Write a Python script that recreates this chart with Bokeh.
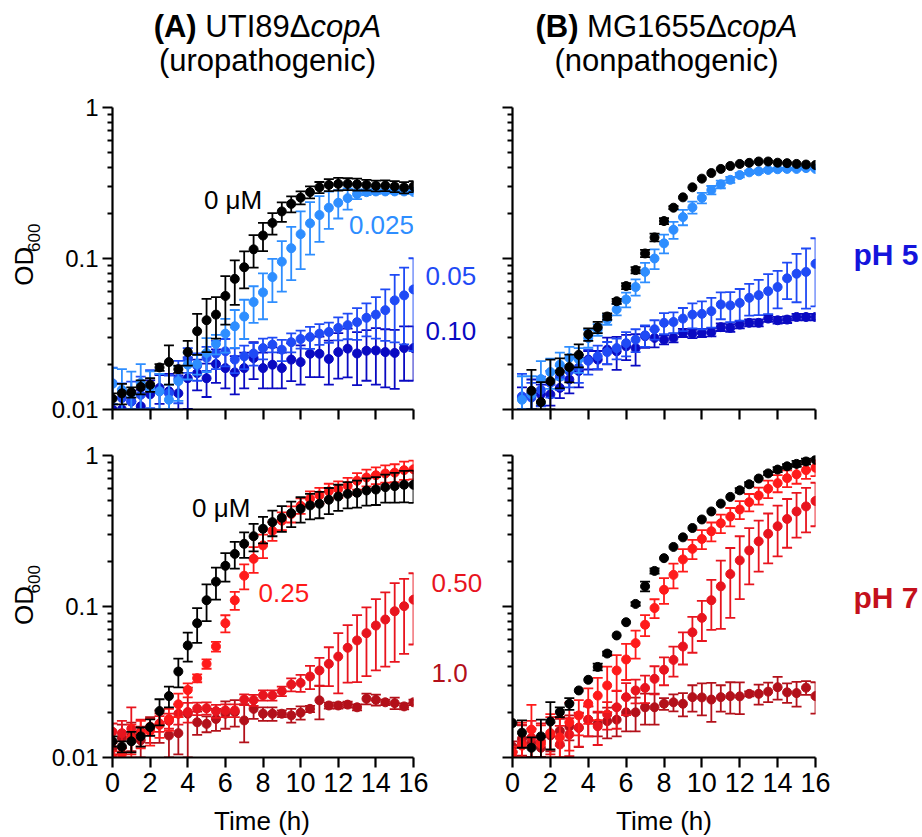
import numpy as np
from bokeh.plotting import figure
from bokeh.models import Range1d, FixedTicker, CustomJSTickFormatter, Label, ColumnDataSource
from bokeh.layouts import row, column
from bokeh.embed import file_html
from bokeh.resources import INLINE

NAN = float("nan")

# ---------------- data ----------------
hours = [0.0, 0.5, 1.0, 1.5, 2.0, 2.5, 3.0, 3.5, 4.0, 4.5, 5.0, 5.5, 6.0, 6.5, 7.0, 7.5,
         8.0, 8.5, 9.0, 9.5, 10.0, 10.5, 11.0, 11.5, 12.0, 12.5, 13.0, 13.5, 14.0, 14.5,
         15.0, 15.5, 16.0]
hours_b5 = hours[1:]

x_ticks = [0, 2, 4, 6, 8, 10, 12, 14, 16]
y_ticks = [0.01, 0.1, 1]
y_minor = [0.02, 0.03, 0.04, 0.05, 0.06, 0.07, 0.08, 0.09,
           0.2, 0.3, 0.4, 0.5, 0.6, 0.7, 0.8, 0.9]

# (A) UTI89 pH 5
a5_0 = [0.0118, 0.0128, 0.0130, 0.0141, 0.0146, 0.0190, 0.0206, 0.0185, 0.0240, 0.0330, 0.0390,
        0.0425, 0.0565, 0.0733, 0.0875, 0.115, 0.142, 0.172, 0.205, 0.230, 0.253, 0.275, 0.296,
        0.307, 0.312, 0.312, 0.310, 0.307, 0.303, 0.304, 0.300, 0.295, 0.300]
a5_0_sd = [0.001, 0.002, 0.001, 0.0015, 0.0015, 0.001, 0.006, 0.001, 0.0045, 0.010, 0.015,
           0.013, 0.020, 0.024, 0.024, 0.028, 0.030, 0.028, 0.030, 0.028, 0.025, 0.025, 0.025,
           0.028, 0.030, 0.028, 0.028, 0.025, 0.025, 0.025, 0.025, 0.025, 0.025]
a5_025 = [0.0148, 0.0135, 0.0128, 0.0150, 0.0139, 0.0132, 0.0116, 0.0154, 0.0198, 0.0200, 0.0237,
          0.0272, 0.0318, 0.0356, 0.0413, 0.0515, 0.0596, 0.0754, 0.0953, 0.117, 0.145, 0.171,
          0.194, 0.217, 0.234, 0.251, 0.267, 0.275, 0.278, 0.278, 0.278, 0.278, 0.276]
a5_025_sd = [0.004, 0.005, 0.005, 0.005, 0.004, 0.004, 0.003, 0.004, 0.004, 0.003, 0.006, 0.004,
             0.008, 0.010, 0.012, 0.014, 0.020, 0.024, 0.035, 0.045, 0.060, 0.065, 0.065, 0.060,
             0.050, 0.040, 0.020, 0.012, 0.010, 0.008, 0.008, 0.008, 0.008]
a5_05 = [0.0149, 0.0119, 0.0113, 0.0125, 0.0142, 0.0132, 0.0128, 0.0160, 0.0215, 0.0195, 0.0220,
         0.0235, 0.0243, 0.0214, 0.0225, 0.0235, 0.0255, 0.0269, 0.0249, 0.0279, 0.0293, 0.0302,
         0.0318, 0.0326, 0.0347, 0.0362, 0.0379, 0.0405, 0.0425, 0.0455, 0.0528, 0.0570, 0.0624]
a5_05_sd = [0.004, 0.003, 0.004, 0.004, 0.004, 0.004, 0.004, 0.005, 0.004, 0.004, 0.004, 0.005,
            0.005, 0.004, 0.004, 0.004, 0.004, 0.003, 0.004, 0.004, 0.004, 0.005, 0.005, 0.005,
            0.006, 0.007, 0.009, 0.010, 0.013, 0.017, 0.025, 0.030, 0.038]
a5_10 = [0.0100, 0.0100, 0.0113, 0.0105, 0.0126, 0.0139, 0.0132, 0.0128, 0.0161, 0.0174, 0.0161,
         0.0200, 0.0188, 0.0176, 0.0188, 0.0219, 0.0188, 0.0198, 0.0188, 0.0214, 0.0206, 0.0234,
         0.0234, 0.0216, 0.0240, 0.0253, 0.0235, 0.0245, 0.0246, 0.0240, 0.0237, 0.0255, 0.0255]
a5_10_sd = [0.002, 0.002, 0.002, 0.003, 0.003, 0.003, 0.004, 0.004, 0.006, 0.004, 0.004, 0.005,
            0.005, 0.005, 0.005, 0.006, 0.005, 0.006, 0.005, 0.006, 0.006, 0.007, 0.007, 0.007,
            0.008, 0.009, 0.009, 0.009, 0.010, 0.010, 0.010, 0.010, 0.010]

# (B) MG1655 pH 5 (from 0.5 h)
b5_0 = [NAN, 0.0133, 0.0112, 0.0154, 0.0178, 0.0191, 0.0230, 0.0315, 0.0350, 0.0413, 0.0521,
        0.0657, 0.0838, 0.108, 0.138, 0.177, 0.217, 0.254, 0.296, 0.338, 0.368, 0.392, 0.410,
        0.423, 0.430, 0.439, 0.439, 0.431, 0.428, 0.423, 0.419, 0.416]
b5_0_sd = [0, 0.005, 0.004, 0.006, 0.004, 0.004, 0.004, 0.003, 0.003, 0.002, 0.002, 0.003, 0.004,
           0.006, 0.008, 0.008, 0.005, 0, 0, 0, 0, 0, 0, 0, 0, 0, 0, 0, 0, 0, 0, 0]
b5_025 = [0.0116, 0.0126, 0.0159, 0.0177, 0.0198, 0.0220, 0.0215, 0.0297, 0.0338, 0.0394, 0.0460,
          0.0535, 0.0647, 0.0815, 0.100, 0.126, 0.155, 0.188, 0.218, 0.252, 0.284, 0.310, 0.332,
          0.357, 0.372, 0.378, 0.386, 0.390, 0.392, 0.392, 0.397, 0.392]
b5_025_sd = [0.005, 0.004, 0.005, 0.004, 0.004, 0.004, 0.004, 0.004, 0.003, 0.003, 0.004, 0.006,
             0.008, 0.012, 0.015, 0.018, 0.020, 0.022, 0.020, 0.020, 0.018, 0.018, 0.015, 0.012,
             0.010, 0.010, 0.008, 0.008, 0.006, 0.005, 0.005, 0.004]
b5_05 = [0.0122, 0.0120, 0.0135, 0.0150, 0.0165, 0.0180, 0.0190, 0.0210, 0.0225, 0.0240, 0.0255,
         0.0275, 0.0290, 0.0310, 0.0340, 0.0375, 0.0380, 0.0400, 0.0425, 0.0430, 0.0448, 0.0496,
         0.0489, 0.0508, 0.0549, 0.0572, 0.0608, 0.0647, 0.0739, 0.0793, 0.0815, 0.0922]
b5_05_sd = [0.005, 0.003, 0.003, 0.003, 0.003, 0.004, 0.004, 0.004, 0.004, 0.004, 0.004, 0.005,
            0.005, 0.005, 0.005, 0.006, 0.006, 0.007, 0.008, 0.009, 0.010, 0.010, 0.011, 0.012,
            0.013, 0.015, 0.018, 0.018, 0.020, 0.028, 0.035, 0.044]
b5_10 = [0.0120, 0.0128, 0.0126, 0.0126, 0.0139, 0.0158, 0.0180, 0.0214, 0.0214, 0.0249, 0.0243,
         0.0262, 0.0255, 0.0306, 0.0298, 0.0290, 0.0298, 0.0322, 0.0317, 0.0322, 0.0325, 0.0351,
         0.0347, 0.0365, 0.0375, 0.0375, 0.0400, 0.0390, 0.0394, 0.0410, 0.0410, 0.0410]
b5_10_sd = [0.002, 0.003, 0.002, 0.002, 0.002, 0.003, 0.004, 0.003, 0.003, 0.005, 0.006, 0.005,
            0.006, 0.005, 0.004, 0.002, 0.002, 0.002, 0.002, 0.002, 0.002, 0.002, 0.002, 0.002,
            0.002, 0.002, 0.002, 0.002, 0.002, 0.002, 0.002, 0.002]

# (A) UTI89 pH 7
a7_0 = [0.0128, 0.0118, 0.0128, 0.0138, 0.0159, 0.0203, 0.0255, 0.0371, 0.0552, 0.0775, 0.110,
        0.146, 0.186, 0.223, 0.260, 0.292, 0.327, 0.362, 0.387, 0.415, 0.444, 0.467, 0.479,
        0.509, 0.535, 0.557, 0.566, 0.586, 0.595, 0.617, 0.627, 0.640, 0.640]
a7_0_sd = [0.001, 0.001, 0.002, 0.002, 0.002, 0.004, 0.004, 0.008, 0.012, 0.020, 0.030, 0.035,
           0.040, 0.045, 0.050, 0.060, 0.065, 0.070, 0.075, 0.080, 0.085, 0.090, 0.095, 0.100,
           0.105, 0.110, 0.115, 0.120, 0.125, 0.130, 0.140, 0.150, 0.155]
a7_025 = [0.0100, 0.0106, 0.0135, 0.0145, 0.0150, 0.0165, 0.0180, 0.0225, 0.0280, 0.0335, 0.0417,
          0.0543, 0.0775, 0.110, 0.160, 0.207, 0.254, 0.317, 0.370, 0.410, 0.465, 0.518, 0.545,
          0.580, 0.600, 0.630, 0.680, 0.715, 0.740, 0.760, 0.770, 0.800, 0.810]
a7_025_sd = [0.001, 0.001, 0.003, 0.003, 0.003, 0.003, 0.003, 0.004, 0.003, 0.002, 0.003, 0.004,
             0.010, 0.015, 0.030, 0.040, 0.045, 0.045, 0.050, 0.050, 0.055, 0.060, 0.065, 0.070,
             0.075, 0.080, 0.085, 0.090, 0.095, 0.100, 0.105, 0.110, 0.115]
a7_050 = [0.0148, 0.0145, 0.0155, 0.0148, 0.0160, 0.0168, 0.0175, 0.0195, 0.0200, 0.0211, 0.0212,
          0.0203, 0.0205, 0.0205, 0.0242, 0.0240, 0.0258, 0.0258, 0.0275, 0.0304, 0.0312, 0.0344,
          0.0377, 0.0417, 0.0466, 0.0533, 0.0596, 0.0666, 0.0748, 0.0820, 0.0930, 0.1005, 0.111]
a7_050_sd = [0.002, 0.003, 0.006, 0.003, 0.002, 0.002, 0.002, 0.003, 0.003, 0.002, 0.002, 0.002,
             0.002, 0.002, 0.002, 0.002, 0.002, 0.002, 0.002, 0.003, 0.004, 0.006, 0.008, 0.012,
             0.020, 0.022, 0.028, 0.032, 0.037, 0.042, 0.050, 0.052, 0.055]
a7_10 = [0.0115, 0.0135, 0.0140, 0.0130, 0.0155, 0.0165, 0.0140, 0.0145, 0.0195, 0.0171, 0.0167,
         0.0180, 0.0195, 0.0200, 0.0176, 0.0210, 0.0195, 0.0195, 0.0195, 0.0190, 0.0198, 0.0210,
         0.0239, 0.0221, 0.0221, 0.0224, 0.0215, 0.0245, 0.0241, 0.0232, 0.0229, 0.0218, 0.0232]
a7_10_sd = [0.001, 0.003, 0.003, 0.003, 0.003, 0.004, 0.004, 0.004, 0.0095, 0.003, 0.002, 0.003,
            0.004, 0.004, 0.005, 0.003, 0.002, 0.002, 0.001, 0.002, 0.002, 0.001, 0.006, 0.001,
            0.001, 0.001, 0.001, 0.002, 0.002, 0.001, 0.002, 0.001, 0.001]

# (B) MG1655 pH 7
b7_0 = [0.0169, 0.0146, 0.0116, 0.0138, 0.0173, 0.0200, 0.0227, 0.0278, 0.0327, 0.0398, 0.0488,
        0.0643, 0.0787, 0.104, 0.136, 0.172, 0.209, 0.248, 0.287, 0.331, 0.377, 0.426, 0.480,
        0.532, 0.588, 0.645, 0.704, 0.761, 0.807, 0.848, 0.880, 0.913, 0.936]
b7_0_sd = [0, 0.003, 0.002, 0.004, 0.006, 0.0015, 0.002, 0, 0, 0.002, 0.0015, 0, 0, 0.003, 0.010,
           0.007, 0, 0, 0, 0, 0, 0, 0, 0, 0.02, 0.02, 0, 0.02, 0.03, 0.03, 0.04, 0.04, 0]
b7_025 = [0.0108, 0.0120, 0.0153, 0.0123, 0.0144, 0.0136, 0.0171, 0.0190, 0.0227, 0.0257, 0.0300,
          0.0377, 0.0446, 0.0572, 0.0757, 0.0977, 0.129, 0.162, 0.205, 0.241, 0.280, 0.315, 0.356,
          0.394, 0.439, 0.491, 0.543, 0.602, 0.656, 0.708, 0.750, 0.800, 0.830]
b7_025_sd = [0.001, 0.005, 0.007, 0.004, 0.005, 0.005, 0.006, 0.005, 0.006, 0.008, 0.010, 0.010,
             0.012, 0.012, 0.012, 0.014, 0.025, 0.030, 0.035, 0.035, 0.040, 0.045, 0.050, 0.055,
             0.060, 0.065, 0.070, 0.080, 0.085, 0.090, 0.100, 0.100, 0.100]
b7_050 = [0.0100, 0.0125, 0.0135, 0.0128, 0.0145, 0.0122, 0.0142, 0.0158, 0.0178, 0.0161, 0.0193,
          0.0215, 0.0251, 0.0278, 0.0289, 0.0332, 0.0381, 0.0443, 0.0543, 0.0674, 0.0841, 0.110,
          0.136, 0.164, 0.202, 0.235, 0.270, 0.303, 0.340, 0.380, 0.426, 0.460, 0.500]
b7_050_sd = [0.001, 0.004, 0.004, 0.004, 0.004, 0.004, 0.004, 0.004, 0.004, 0.004, 0.004, 0.006,
             0.006, 0.005, 0.006, 0.007, 0.008, 0.010, 0.013, 0.018, 0.025, 0.040, 0.065, 0.080,
             0.090, 0.095, 0.100, 0.110, 0.125, 0.135, 0.140, 0.150, 0.160]
b7_10 = [0.0118, 0.0133, 0.0125, 0.0116, 0.0140, 0.0150, 0.0160, 0.0157, 0.0178, 0.0168, 0.0174,
         0.0178, 0.0199, 0.0199, 0.0215, 0.0215, 0.0227, 0.0232, 0.0227, 0.0251, 0.0250, 0.0242,
         0.0251, 0.0255, 0.0254, 0.0264, 0.0264, 0.0273, 0.0292, 0.0270, 0.0267, 0.0290, 0.0255]
b7_10_sd = [0.001, 0.003, 0.003, 0.002, 0.003, 0.003, 0.003, 0.004, 0.004, 0.003, 0.004, 0.004,
            0.005, 0.005, 0.005, 0.005, 0.002, 0.003, 0.004, 0.005, 0.006, 0.007, 0.005, 0.006,
            0.006, 0.001, 0.004, 0.004, 0.005, 0.004, 0.005, 0.003, 0.006]

# ---------------- style ----------------
FONT = "Liberation Sans"
C_BLACK = "#000000"
C_LB = "#2E8EFF"
C_MB = "#1F4AF5"
C_DB = "#0A0AC2"
C_PH5 = "#1414DC"
C_R1 = "#FF1A1A"
C_R2 = "#E8141E"
C_R3 = "#B3101A"
C_PH7 = "#C4101C"

FRAME_W = 303          # 16 h
FRAME_H = 302          # 2 decades
PX_H = FRAME_W / 16.0
PX_DEC = FRAME_H / 2.0


def make_fig(width, height, bl, br, bt, bb, ylabels, xlabels):
    p = figure(width=width, height=height, x_range=Range1d(0, 16),
               y_range=Range1d(0.01, 1), y_axis_type="log",
               output_backend="svg", toolbar_location=None,
               min_border_left=bl, min_border_right=br,
               min_border_top=bt, min_border_bottom=bb)
    p.outline_line_color = None
    p.xgrid.visible = False
    p.ygrid.visible = False
    p.background_fill_color = "white"
    p.border_fill_color = "white"
    xa, ya = p.xaxis[0], p.yaxis[0]
    xa.ticker = FixedTicker(ticks=x_ticks, minor_ticks=[])
    ya.ticker = FixedTicker(ticks=y_ticks, minor_ticks=y_minor)
    for ax in (xa, ya):
        ax.axis_line_width = 2.2
        ax.axis_line_color = "black"
        ax.major_tick_line_width = 2.2
        ax.minor_tick_line_width = 2.2
        ax.major_tick_line_color = "black"
        ax.minor_tick_line_color = "black"
        ax.major_tick_in = 0
        ax.major_tick_out = 10
        ax.minor_tick_in = 0
        ax.minor_tick_out = 5
        ax.major_label_text_font = FONT
        ax.major_label_text_color = "black"
    if xlabels:
        xa.major_label_text_font_size = "27px"
        xa.major_label_standoff = 5
        xa.formatter = CustomJSTickFormatter(code="return String(tick)")
    else:
        xa.major_label_text_font_size = "0px"
        xa.major_label_standoff = 0
        xa.formatter = CustomJSTickFormatter(code="return ''")
    if ylabels:
        ya.major_label_text_font_size = "24px"
        ya.major_label_standoff = 4
        ya.formatter = CustomJSTickFormatter(code="return String(tick)")
    else:
        ya.major_label_text_font_size = "0px"
        ya.major_label_standoff = 0
        ya.formatter = CustomJSTickFormatter(code="return ''")
    return p


def text_fig(x0, x1, y0, y1):
    # a blank canvas whose data coordinates equal page pixels
    p = figure(width=int(x1 - x0), height=int(y1 - y0),
               x_range=Range1d(x0, x1), y_range=Range1d(y1, y0),
               x_axis_location=None, y_axis_location=None,
               output_backend="svg", toolbar_location=None,
               min_border=0, min_border_left=0, min_border_right=0,
               min_border_top=0, min_border_bottom=0)
    p.outline_line_color = None
    for g in p.grid:
        g.visible = False
    p.background_fill_color = "white"
    p.border_fill_color = "white"
    return p


def draw_series(p, t, od, sd, color):
    t = np.asarray(t, dtype=float)
    od = np.asarray(od, dtype=float)
    sd = np.asarray(sd, dtype=float)
    ok = ~np.isnan(od)
    has = ok & (sd > 0)
    hi = od + sd
    lo = np.maximum(od - sd, 0.01)
    bars = ColumnDataSource(dict(t=t[has], lo=lo[has], hi=hi[has]))
    p.segment(x0="t", y0="lo", x1="t", y1="hi", source=bars, line_color=color, line_width=1.8)
    p.scatter(x="t", y="hi", source=bars, marker="dash", size=10, line_color=color, line_width=1.8)
    p.scatter(x="t", y="lo", source=bars, marker="dash", size=10, line_color=color, line_width=1.8)
    pts = ColumnDataSource(dict(t=t[ok], od=od[ok]))
    p.scatter(x="t", y="od", source=pts, marker="circle", size=9, fill_color=color, line_color=color)


def add_text(p, x, y, text, size, color="black", style="normal", align="left",
             baseline="middle", angle=0.0):
    p.add_layout(Label(x=x, y=y, text=text, text_font=FONT, text_font_size=f"{size}px",
                       text_color=color, text_font_style=style, text_align=align,
                       text_baseline=baseline, angle=angle))


# page geometry (px)
XA0, XB0 = 110, 512         # page x of t = 0
YT, YB = 409, 757           # page y of OD = 0.01 (top / bottom row)
ROW0, ROW1, ROW2, ROW3 = 92, 436, 805, 837
LEFT_W = 48


def tx(px, x0):
    return (px - x0) / PX_H


def ty(py, y001):
    return 10 ** (-2 + (y001 - py) / PX_DEC)


W = {"(": 333, ")": 333, "A": 722, "B": 722, "U": 722, "T": 611, "I": 278, "8": 556, "9": 556,
     "M": 833, "G": 778, "1": 556, "6": 556, "5": 556, "Δ": 668, " ": 278,
     "c": 500, "o": 556, "p": 556}


def wid(s, size):
    return sum(W[c] for c in s) / 1000.0 * size


# ----- data panels -----
BL_A = XA0 - LEFT_W
pa5 = make_fig(BL_A + FRAME_W + 7, ROW1 - ROW0, BL_A, 7, 107 - ROW0, ROW1 - YT, True, False)
pb5 = make_fig(338, ROW1 - ROW0, 15, 20, 107 - ROW0, ROW1 - YT, False, False)
pa7 = make_fig(BL_A + FRAME_W + 17, ROW2 - ROW1, BL_A, 17, 455 - ROW1, ROW2 - YB, True, True)
pb7 = make_fig(338, ROW2 - ROW1, 15, 20, 455 - ROW1, ROW2 - YB, False, True)

for od, sd, c in [(a5_10, a5_10_sd, C_DB), (a5_05, a5_05_sd, C_MB),
                  (a5_025, a5_025_sd, C_LB), (a5_0, a5_0_sd, C_BLACK)]:
    draw_series(pa5, hours, od, sd, c)
for od, sd, c in [(b5_10, b5_10_sd, C_DB), (b5_05, b5_05_sd, C_MB),
                  (b5_025, b5_025_sd, C_LB), (b5_0, b5_0_sd, C_BLACK)]:
    draw_series(pb5, hours_b5, od, sd, c)
for od, sd, c in [(a7_10, a7_10_sd, C_R3), (a7_050, a7_050_sd, C_R2),
                  (a7_025, a7_025_sd, C_R1), (a7_0, a7_0_sd, C_BLACK)]:
    draw_series(pa7, hours, od, sd, c)
for od, sd, c in [(b7_10, b7_10_sd, C_R3), (b7_050, b7_050_sd, C_R2),
                  (b7_025, b7_025_sd, C_R1), (b7_0, b7_0_sd, C_BLACK)]:
    draw_series(pb7, hours, od, sd, c)

# annotations inside the frames
add_text(pa5, tx(202, XA0), ty(199, YT), "0 μM", 26, C_BLACK)
add_text(pa5, tx(348, XA0), ty(224, YT), "0.025", 26, C_LB)
add_text(pa7, tx(190, XA0), ty(507, YB), "0 μM", 26, C_BLACK)
add_text(pa7, tx(257, XA0), ty(592, YB), "0.25", 26, C_R1)

# ----- text canvases around the panels -----
A5_END = LEFT_W + BL_A + FRAME_W + 7
A7_END = LEFT_W + BL_A + FRAME_W + 17
title = text_fig(0, 920, 0, ROW0)
left5 = text_fig(0, LEFT_W, ROW0, ROW1)
left7 = text_fig(0, LEFT_W, ROW1, ROW2)
gap5 = text_fig(A5_END, 497, ROW0, ROW1)
gap7 = text_fig(A7_END, 497, ROW1, ROW2)
right5 = text_fig(835, 920, ROW0, ROW1)
right7 = text_fig(835, 920, ROW1, ROW2)
bottom = text_fig(0, 920, ROW2, ROW3)

TS = 31
for tag, strain, sub, cx in [("(A)", "UTI89Δ", "(uropathogenic)", 267),
                             ("(B)", "MG1655Δ", "(nonpathogenic)", 666)]:
    total = wid(tag, TS) + wid(" ", TS) + wid(strain, TS) + wid("copA", TS) * 0.98
    xs = cx - total / 2.0
    xjoin = xs + wid(tag, TS) + wid(" ", TS) + wid(strain, TS)
    add_text(title, xs, 26, tag, TS, style="bold")
    add_text(title, xjoin, 26, strain, TS, align="right")
    add_text(title, xjoin, 26, "copA", TS, style="italic")
    add_text(title, cx, 60, sub, TS, align="center")

# OD600, rotated; anchored at the start of the text on its top edge
for canvas, y_start in ((left5, 295), (left7, 643)):
    add_text(canvas, 32 - 0.905 * 26, y_start, "OD", 26, baseline="top", angle=np.pi / 2)
    add_text(canvas, 43 - 0.905 * 17, y_start - 38.5, "600", 17, baseline="top", angle=np.pi / 2)

add_text(gap5, 425, 284, "0.05", 26, C_MB)
add_text(gap5, 425, 347, "0.10", 26, C_DB)
add_text(gap7, 431, 592, "0.50", 26, C_R2)
add_text(gap7, 431, 702, "1.0", 26, C_R3)

add_text(right5, 853, 260, "pH 5", 30, C_PH5, style="bold")
add_text(right7, 853, 610, "pH 7", 30, C_PH7, style="bold")

add_text(bottom, 261.5, 820, "Time (h)", 26, align="center")
add_text(bottom, 663.5, 820, "Time (h)", 26, align="center")

layout = column(
    title,
    row(left5, pa5, gap5, pb5, right5),
    row(left7, pa7, gap7, pb7, right7),
    bottom,
)
open("out.html", "w").write(file_html(layout, INLINE, "Copper growth curves"))
